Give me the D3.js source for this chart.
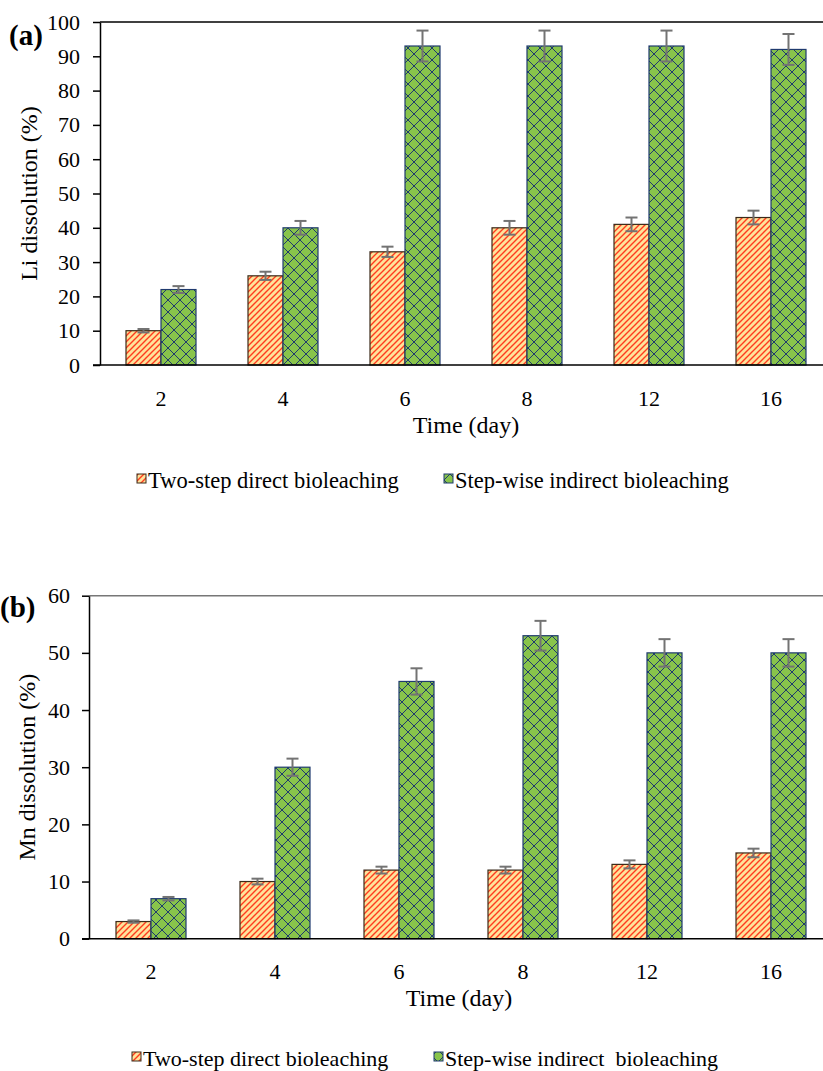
<!DOCTYPE html>
<html>
<head>
<meta charset="utf-8">
<script src="https://cdn.jsdelivr.net/npm/d3@7"></script>
<style>
  body { margin: 0; background: #fff; }
  svg { display: block; }
  svg text { font-family: "Liberation Serif", "Times New Roman", serif; fill: #000; }
</style>
</head>
<body>
<svg id="chart" width="823" height="1071"></svg>
<script>
const categories = ["2", "4", "6", "8", "12", "16"]

// panel (a) Li
const liDirect = [10, 26, 33, 40, 41, 43]
const liDirectErr = [0.5, 1.2, 1.5, 2, 2, 2]
const liIndirect = [22, 40, 93, 93, 93, 92]
const liIndirectErr = [1, 2, 4.5, 4.5, 4.5, 4.5]
const liTicks = [0, 10, 20, 30, 40, 50, 60, 70, 80, 90, 100]

// panel (b) Mn
const mnDirect = [3, 10, 12, 12, 13, 15]
const mnDirectErr = [0.2, 0.5, 0.6, 0.6, 0.7, 0.75]
const mnIndirect = [7, 30, 45, 53, 50, 50]
const mnIndirectErr = [0.3, 1.5, 2.3, 2.6, 2.4, 2.4]
const mnTicks = [0, 10, 20, 30, 40, 50, 60]

const seriesNames = ["Two-step direct bioleaching", "Step-wise indirect bioleaching"]
const seriesNamesB = ["Two-step direct bioleaching", "Step-wise indirect\u00a0\u00a0bioleaching"]

const svg = d3.select("#chart")
const defs = svg.append("defs")

// orange diagonal stripes
let stripe = defs.append("pattern")
    .attr("id", "stripe")
    .attr("patternUnits", "userSpaceOnUse")
    .attr("width", 6).attr("height", 6)
stripe.append("rect").attr("width", 6).attr("height", 6).attr("fill", "#ffe29a")
stripe.append("path")
    .attr("d", "M0,6 L6,0 M-1.5,1.5 L1.5,-1.5 M4.5,7.5 L7.5,4.5")
    .attr("stroke", "#ff3b1e").attr("stroke-width", 1.4)

// green diamond lattice
let diamond = defs.append("pattern")
    .attr("id", "diamond")
    .attr("patternUnits", "userSpaceOnUse")
    .attr("width", 12).attr("height", 12)
diamond.append("rect").attr("width", 12).attr("height", 12).attr("fill", "#88c44b")
diamond.append("path")
    .attr("d", "M0,0 L12,12 M12,0 L0,12")
    .attr("stroke", "#1f3a6e").attr("stroke-width", 1)

function drawPanel(cfg) {
    let x = d3.scaleBand()
        .domain(categories)
        .range([cfg.left, cfg.right])
    let y = d3.scaleLinear()
        .domain([0, cfg.max])
        .range([cfg.bottom, cfg.top])
    let barW = 35

    let g = svg.append("g")

    // top border
    g.append("line")
        .attr("x1", cfg.left).attr("x2", cfg.right)
        .attr("y1", y(cfg.max)).attr("y2", y(cfg.max))
        .attr("stroke", cfg.topColor).attr("stroke-width", 1.5)

    let series = [
        {vals: cfg.a, err: cfg.aErr, fill: "url(#stripe)", stroke: "#3a2a1a", off: -barW},
        {vals: cfg.b, err: cfg.bErr, fill: "url(#diamond)", stroke: "#1f3a6e", off: 0}
    ]

    series.forEach(s => {
        g.append("g")
            .selectAll("rect")
            .data(s.vals)
            .join("rect")
            .attr("x", (d, i) => x(categories[i]) + x.bandwidth() / 2 + s.off)
            .attr("y", d => y(d))
            .attr("width", barW)
            .attr("height", d => y(0) - y(d))
            .attr("fill", s.fill)
            .attr("stroke", s.stroke)
            .attr("stroke-width", 1.2)
    })

    // error bars
    series.forEach(s => {
        let eg = g.append("g")
            .attr("stroke", "#737373")
            .attr("stroke-width", 2)
        s.vals.forEach((v, i) => {
            let cx = x(categories[i]) + x.bandwidth() / 2 + s.off + barW / 2
            let hi = y(v + s.err[i]), lo = y(v - s.err[i])
            eg.append("line").attr("x1", cx).attr("x2", cx).attr("y1", hi).attr("y2", lo)
            eg.append("line").attr("x1", cx - 6).attr("x2", cx + 6).attr("y1", hi).attr("y2", hi)
            eg.append("line").attr("x1", cx - 6).attr("x2", cx + 6).attr("y1", lo).attr("y2", lo)
        })
    })

    // y axis
    let yAxis = g.append("g")
        .attr("transform", `translate(${cfg.left},0)`)
        .call(d3.axisLeft(y).tickValues(cfg.ticks).tickSize(7).tickPadding(cfg.yPad).tickSizeOuter(0))
    yAxis.attr("font-family", null).attr("font-size", null)
    yAxis.selectAll("text").attr("font-size", 22).attr("fill", "#000")
    yAxis.selectAll("line, path").attr("stroke", "#000").attr("stroke-width", 1.5)

    // x axis
    let xAxis = g.append("g")
        .attr("transform", `translate(0,${cfg.bottom})`)
        .call(d3.axisBottom(x).tickSize(0).tickPadding(25))
    xAxis.attr("font-family", null).attr("font-size", null)
    xAxis.select(".domain").remove()
    xAxis.selectAll("text").attr("font-size", 22).attr("fill", "#000")
    g.append("line")
        .attr("x1", cfg.left - 7).attr("x2", cfg.right)
        .attr("y1", y(0)).attr("y2", y(0))
        .attr("stroke", "#000").attr("stroke-width", 1.5)

    // axis titles
    g.append("text")
        .attr("x", cfg.xTitleX).attr("y", cfg.xTitleY)
        .attr("text-anchor", "middle")
        .attr("font-size", 24)
        .text("Time (day)")
    g.append("text")
        .attr("transform", `translate(${cfg.yTitleX},${(cfg.top + cfg.bottom) / 2}) rotate(-90)`)
        .attr("text-anchor", "middle")
        .attr("font-size", 24)
        .text(cfg.yTitle)

    // panel label
    g.append("text")
        .attr("x", cfg.labelX).attr("y", cfg.labelY)
        .attr("font-size", 29).attr("font-weight", "bold")
        .text(cfg.label)

    // legend
    let fills = ["url(#stripe)", "url(#diamond)"]
    let strokes = ["#3a2a1a", "#1f3a6e"]
    cfg.legend.forEach((name, i) => {
        let lx = cfg.legendX[i]
        g.append("rect")
            .attr("x", lx).attr("y", cfg.legendY - 14)
            .attr("width", 9).attr("height", 9)
            .attr("fill", fills[i]).attr("stroke", strokes[i]).attr("stroke-width", 1)
        g.append("text")
            .attr("x", lx + 11).attr("y", cfg.legendY)
            .attr("font-size", cfg.legendSize)
            .text(name)
    })
}

drawPanel({
    left: 100, right: 832, top: 22, bottom: 365, max: 100, ticks: liTicks, yPad: 13,
    a: liDirect, aErr: liDirectErr, b: liIndirect, bErr: liIndirectErr,
    topColor: "#000", yTitle: "Li dissolution (%)", yTitleX: 37,
    xTitleX: 466, xTitleY: 433, label: "(a)", labelX: 9, labelY: 45,
    legend: seriesNames, legendX: [137, 444], legendY: 488, legendSize: 22.5
})

drawPanel({
    left: 89, right: 833, top: 595.7, bottom: 938.7, max: 60, ticks: mnTicks, yPad: 12,
    a: mnDirect, aErr: mnDirectErr, b: mnIndirect, bErr: mnIndirectErr,
    topColor: "#777", yTitle: "Mn dissolution (%)", yTitleX: 35,
    xTitleX: 459, xTitleY: 1006, label: "(b)", labelX: 0, labelY: 617,
    legend: seriesNamesB, legendX: [132, 434], legendY: 1066, legendSize: 22
})
</script>
</body>
</html>
